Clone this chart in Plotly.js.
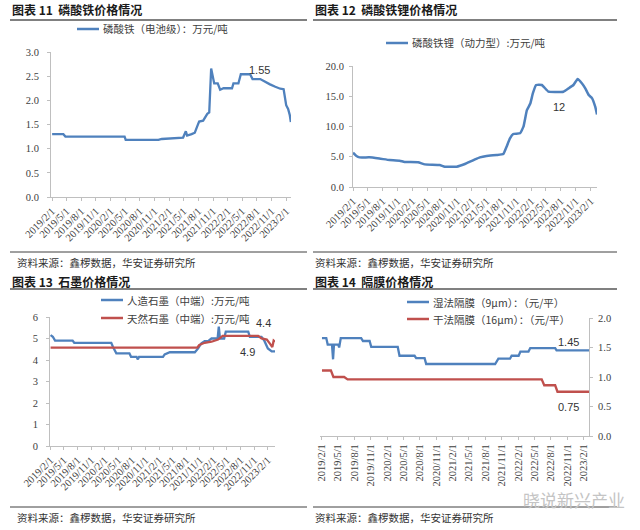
<!DOCTYPE html>
<html><head><meta charset="utf-8">
<script src="https://cdn.plot.ly/plotly-3.0.1.min.js"></script>
<style>html,body{margin:0;padding:0;background:#fff}#chart{width:640px;height:530px}</style>
</head><body><div id="chart"></div>
<script>
// ---------- tick labels (shared) ----------
const tickDates = ['2019-02-01','2019-05-01','2019-08-01','2019-11-01','2020-02-01','2020-05-01','2020-08-01','2020-11-01','2021-02-01','2021-05-01','2021-08-01','2021-11-01','2022-02-01','2022-05-01','2022-08-01','2022-11-01','2023-02-01'];
const tickLabels = ['2019/2/1','2019/5/1','2019/8/1','2019/11/1','2020/2/1','2020/5/1','2020/8/1','2020/11/1','2021/2/1','2021/5/1','2021/8/1','2021/11/1','2022/2/1','2022/5/1','2022/8/1','2022/11/1','2023/2/1'];

// ---------- 图表11 磷酸铁（电池级）万元/吨 ----------
const fepDates = ['2019-02-01','2019-04-12','2019-04-25','2020-04-28','2020-05-05','2020-11-25','2020-12-16','2021-03-17','2021-04-28','2021-05-15','2021-05-23','2021-06-20','2021-07-10','2021-07-25','2021-08-06','2021-08-31','2021-09-12','2021-09-26','2021-10-08','2021-10-20','2021-11-08','2021-11-30','2021-12-15','2022-01-05','2022-02-27','2022-03-08','2022-04-08','2022-04-23','2022-06-20','2022-07-05','2022-08-22','2022-09-22','2022-10-22','2022-11-24','2022-12-25','2023-01-15','2023-01-31','2023-02-12','2023-02-22','2023-03-01'];
const fepValues = [1.30,1.30,1.25,1.25,1.18,1.18,1.20,1.21,1.23,1.36,1.27,1.30,1.33,1.46,1.56,1.58,1.66,1.72,1.75,2.66,2.35,2.35,2.22,2.25,2.25,2.35,2.35,2.54,2.54,2.44,2.44,2.38,2.33,2.28,2.24,2.23,1.90,1.82,1.70,1.55];

// ---------- 图表12 磷酸铁锂（动力型）万元/吨 ----------
const lfpDates = ['2019-02-01','2019-02-22','2019-03-13','2019-05-13','2019-07-13','2019-09-14','2019-11-15','2019-12-15','2020-03-07','2020-04-17','2020-07-18','2020-08-18','2020-10-30','2020-12-20','2021-01-20','2021-02-20','2021-03-22','2021-05-02','2021-07-03','2021-08-13','2021-09-02','2021-09-23','2021-10-13','2021-11-24','2021-12-15','2022-01-05','2022-01-26','2022-02-11','2022-03-03','2022-04-07','2022-05-18','2022-08-18','2022-09-18','2022-10-18','2022-11-13','2022-12-10','2022-12-30','2023-01-20','2023-02-10','2023-03-01','2023-03-12'];
const lfpValues = [5.67,5.12,4.90,4.90,4.70,4.46,4.35,4.13,4.10,3.74,3.64,3.36,3.36,3.80,4.18,4.57,4.90,5.12,5.29,5.45,6.66,8.04,8.76,8.87,9.97,12.70,13.80,15.50,16.86,16.86,15.75,15.75,16.30,16.86,17.85,17.10,16.30,15.20,14.66,13.27,12.00];

// ---------- 图表13 石墨 万元/吨 ----------
const artDates = ['2019-02-01','2019-02-16','2019-03-03','2019-06-29','2019-07-10','2020-03-15','2020-03-26','2020-04-18','2020-07-15','2020-07-26','2020-09-01','2020-09-10','2020-09-18','2021-02-26','2021-03-09','2021-04-13','2021-09-28','2021-10-20','2021-11-11','2021-12-03','2021-12-26','2022-01-18','2022-02-28','2022-03-08','2022-03-16','2022-04-13','2022-04-24','2022-09-22','2022-10-03','2022-12-20','2023-01-08','2023-02-01','2023-02-27','2023-03-21'];
const artValues = [5.16,5.08,4.90,4.90,4.80,4.80,4.62,4.31,4.31,4.15,4.15,4.03,4.15,4.15,4.26,4.36,4.36,4.54,4.78,4.88,4.88,5.00,5.00,5.55,5.00,5.00,5.32,5.32,5.08,5.08,4.90,4.54,4.40,4.40];
const natDates = ['2019-02-01','2021-10-15','2021-10-28','2021-12-03','2022-01-18','2022-03-03','2022-04-03','2022-11-28','2022-12-20','2023-01-25','2023-02-16','2023-03-03','2023-03-12','2023-03-21'];
const natValues = [4.58,4.58,4.70,4.80,4.85,4.95,5.12,5.12,5.00,4.95,4.75,4.60,4.90,4.85];

// ---------- 图表14 隔膜 元/平 ----------
const wetDates = ['2019-02-01','2019-02-25','2019-03-05','2019-03-29','2019-04-04','2019-04-09','2019-05-03','2019-05-08','2019-05-17','2019-09-08','2019-09-18','2019-10-25','2019-11-03','2020-03-30','2020-04-09','2020-07-02','2020-07-11','2020-08-27','2020-09-05','2021-09-25','2021-10-13','2021-12-17','2021-12-26','2022-02-03','2022-02-13','2022-03-30','2022-04-09','2022-08-26','2022-09-03','2023-03-03'];
const wetValues = [1.66,1.66,1.55,1.55,1.30,1.55,1.55,1.50,1.66,1.66,1.61,1.61,1.51,1.51,1.36,1.36,1.32,1.32,1.22,1.22,1.31,1.31,1.36,1.36,1.43,1.43,1.49,1.49,1.45,1.45];
const dryDates = ['2019-02-01','2019-03-23','2019-04-06','2019-06-05','2019-06-24','2022-06-12','2022-06-26','2022-08-26','2022-09-08','2023-03-03'];
const dryValues = [1.11,1.11,1.00,1.00,0.96,0.96,0.86,0.86,0.75,0.75];

// ---------- text ----------
const titles = ['图表 11  磷酸铁价格情况','图表 12  磷酸铁锂价格情况','图表 13  石墨价格情况','图表 14  隔膜价格情况'];
const seriesNames = ['磷酸铁（电池级）：万元/吨','磷酸铁锂（动力型）:万元/吨','人造石墨（中端）:万元/吨','天然石墨（中端）:万元/吨','湿法隔膜（9μm）：（元/平）','干法隔膜（16μm）：（元/平）'];
const sourceText = '资料来源：鑫椤数据，华安证券研究所';
const dataLabels = ['1.55','12','4.4','4.9','1.45','0.75'];

// ---------- layout helpers ----------
const W = 640, H = 530;
const fx = x => x / W, fy = y => 1 - y / H;
const BLUE = '#4F81BD', RED = '#C0504D';
const GRID = '#bfbfbf';
const serif = '"Liberation Serif","Times New Roman",serif';
const cjk = '"Noto Sans CJK SC","Noto Sans CJK JP",sans-serif';
const xTickFont = {family: serif, size: 10.5, color: '#404040'};
const yTickFont = {family: serif, size: 10.5, color: '#404040'};

function xAx(x0, x1, anchor, range, angle) {
  return {domain: [fx(x0), fx(x1)], anchor, type: 'date', range,
    tickmode: 'array', tickvals: tickDates, ticktext: tickLabels, tickangle: angle,
    showline: true, linecolor: GRID, linewidth: 1, ticks: 'outside', ticklen: 3, tickcolor: GRID,
    showgrid: false, zeroline: false, tickfont: xTickFont, fixedrange: true};
}
function yAx(y0, y1, anchor, range, dtick, fmt, side, standoff) {
  return {domain: [fy(y1), fy(y0)], anchor, range, dtick, tick0: 0, tickformat: fmt, side: side || 'left',
    showline: true, linecolor: GRID, linewidth: 1, ticks: 'outside', ticklen: 3, tickcolor: GRID,
    ticklabelstandoff: standoff || 0,
    showgrid: false, zeroline: false, tickfont: yTickFont, fixedrange: true};
}

const traces = [
  {x: fepDates, y: fepValues, xaxis: 'x', yaxis: 'y', name: seriesNames[0], mode: 'lines', line: {color: BLUE, width: 2.3}},
  {x: lfpDates, y: lfpValues, xaxis: 'x2', yaxis: 'y2', name: seriesNames[1], mode: 'lines', line: {color: BLUE, width: 2.5, shape: 'spline', smoothing: 0.3}},
  {x: artDates, y: artValues, xaxis: 'x3', yaxis: 'y3', name: seriesNames[2], mode: 'lines', line: {color: BLUE, width: 2.3}},
  {x: natDates, y: natValues, xaxis: 'x3', yaxis: 'y3', name: seriesNames[3], mode: 'lines', line: {color: RED, width: 2.3}},
  {x: wetDates, y: wetValues, xaxis: 'x4', yaxis: 'y4', name: seriesNames[4], mode: 'lines', line: {color: BLUE, width: 2.3}},
  {x: dryDates, y: dryValues, xaxis: 'x4', yaxis: 'y4', name: seriesNames[5], mode: 'lines', line: {color: RED, width: 2.3}}
];

const ann = [];
const shapes = [];
function txt(text, x, y, font, xanchor) {
  ann.push({text, xref: 'paper', yref: 'paper', x: fx(x), y: fy(y), xanchor: xanchor || 'left', yanchor: 'middle', showarrow: false, font});
}
function rule(x0, x1, y, color, width) {
  shapes.push({type: 'line', xref: 'paper', yref: 'paper', x0: fx(x0), x1: fx(x1), y0: fy(y), y1: fy(y), line: {color, width}});
}
const titleFont = {family: cjk, size: 12, color: '#1a1a1a', weight: 'bold'};
const legFont = {family: cjk, size: 10.5, color: '#404040'};
const srcFont = {family: cjk, size: 10.5, color: '#333333'};
const lblFont = {family: '"Liberation Sans",Arial,sans-serif', size: 11, color: '#333333'};

// titles + rules
[[10, 307, 10, 20, 252, 262], [313, 617, 10, 20, 252, 262], [10, 307, 281, 289, 507, 517], [313, 617, 281, 289, 507, 517]].forEach((p, i) => {
  txt(titles[i], p[0], p[2], titleFont);
  rule(p[0], p[1], p[3], '#808080', 2);
  rule(p[0], p[1], p[4], '#404040', 1);
  txt(sourceText, p[0] + (i % 2 === 0 ? 5 : 0), p[5], srcFont);
});

// legends
function leg(name, color, x, y) {
  shapes.push({type: 'line', xref: 'paper', yref: 'paper', x0: fx(x), x1: fx(x + 22), y0: fy(y), y1: fy(y), line: {color, width: 2.5}});
  txt(name, x + 24, y, legFont);
}
leg(seriesNames[0], BLUE, 77, 29);
leg(seriesNames[1], BLUE, 386, 43);
leg(seriesNames[2], BLUE, 101, 300);
leg(seriesNames[3], RED, 101, 318);
leg(seriesNames[4], BLUE, 407, 302);
leg(seriesNames[5], RED, 407, 319);

// data labels
txt(dataLabels[0], 259, 70, lblFont, 'center');
txt(dataLabels[1], 559, 107, lblFont, 'center');
txt(dataLabels[2], 263, 323, lblFont, 'center');
txt(dataLabels[3], 247, 352, lblFont, 'center');
txt(dataLabels[4], 568, 342, lblFont, 'center');
txt(dataLabels[5], 568, 407, lblFont, 'center');

// watermark
txt('晓说新兴产业', 574, 499, {family: cjk, size: 17, color: '#c4c4c4'}, 'center');

const layout = {
  width: W, height: H, margin: {l: 0, r: 0, t: 0, b: 0}, showlegend: false,
  paper_bgcolor: '#ffffff', plot_bgcolor: 'rgba(0,0,0,0)',
  xaxis: xAx(51, 291, 'y', ['2019-01-25', '2023-03-02'], -45),
  yaxis: yAx(52, 197, 'x', [0, 3], 0.5, '.1f', 'left', 6),
  xaxis2: xAx(353, 597, 'y2', ['2019-02-01', '2023-03-12'], -45),
  yaxis2: yAx(66, 187, 'x2', [0, 20], 5, '.1f', 'left', 3),
  xaxis3: xAx(50, 275, 'y3', ['2019-01-28', '2023-03-21'], -45),
  yaxis3: yAx(317, 446, 'x3', [0, 6], 1, 'd', 'left', 6),
  xaxis4: xAx(320, 589, 'y4', ['2019-01-21', '2023-03-03'], -90),
  yaxis4: yAx(318, 436, 'x4', [0, 2], 0.5, '.1f', 'right', 3),
  annotations: ann, shapes: shapes
};
Plotly.newPlot('chart', traces, layout, {staticPlot: true, displayModeBar: false});
</script></body></html>
